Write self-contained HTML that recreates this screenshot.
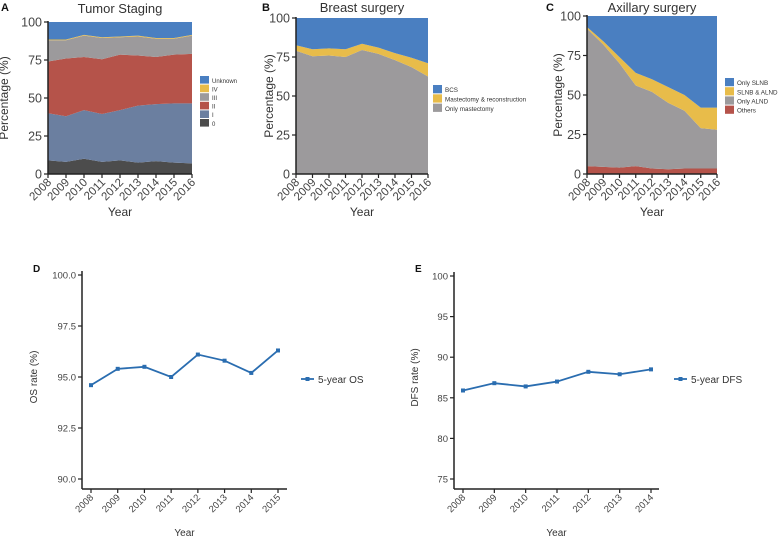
<!DOCTYPE html>
<html><head><meta charset="utf-8"><style>
body{margin:0;background:#fff}
svg{display:block;font-family:"Liberation Sans",sans-serif}
</style></head><body>
<svg id="c" width="780" height="538" xmlns="http://www.w3.org/2000/svg"></svg>
<script>
const years = [2008,2009,2010,2011,2012,2013,2014,2015,2016];
// Panel A stage percentages
const stage0 = [9,8,10,8,9,7.5,8.5,7.5,7];
const stageI = [31,30,32,31.5,33,37.5,37.5,39,39.5];
const stageII = [34,38,35,36,36.5,33,31,32,32.5];
const stageIII = [14,12,14,14,11.5,12.5,12,10.5,12];
const stageIV = [0.5,0.5,0.5,0.5,0.5,0.5,0.5,0.5,0.5];
const stageUnknown = [11.5,11.5,8.5,10,9.5,9,10.5,10.5,8.5];
// Panel B
const onlyMastectomy = [79,75.5,76,75,79.5,77,73,68.5,62.5];
const mastRecon = [3.5,4.5,4.5,5,4,4,4.5,6,8.5];
const bcs = [17.5,20,19.5,20,16.5,19,22.5,25.5,29];
// Panel C
const others = [5,4.5,4,5,3.5,3,3.5,3.5,3.5];
const onlyALND = [87,77.5,66,51,48.5,42,36.5,25.5,24.5];
const slnbALND = [1,2,4,8,8,10,10,13,14];
const onlySLNB = [7,16,26,36,40,45,50,58,58];
// Panel D/E
const osYears = [2008,2009,2010,2011,2012,2013,2014,2015];
const osValues = [94.6,95.4,95.5,95.0,96.1,95.8,95.2,96.3];
const osTicks = [90,92.5,95,97.5,100];
const dfsYears = [2008,2009,2010,2011,2012,2013,2014];
const dfsValues = [85.9,86.8,86.4,87.0,88.2,87.9,88.5];
const dfsTicks = [75,80,85,90,95,100];
const pctTicks = [0,25,50,75,100];

const NS="http://www.w3.org/2000/svg";
const svg=document.getElementById('c');
function mk(tag,attrs,parent){const e=document.createElementNS(NS,tag);for(const k in attrs)e.setAttribute(k,attrs[k]);(parent||svg).appendChild(e);return e;}
function txt(s,attrs,parent){const e=mk('text',attrs,parent);e.textContent=s;return e;}

function stackPanel(p){
  const g=mk('g',{});
  
  
  const xs=i=>p.x0+(p.x1-p.x0)*i/(years.length-1);
  const ys=v=>p.y0-(p.y0-p.y100)*v/100;
  let base=years.map(()=>0);
  p.series.forEach((s,si)=>{
    const top=base.map((b,i)=>b+s.vals[i]);
    let d='M'+years.map((_,i)=>xs(i)+','+ys(top[i])).join('L');
    for(let i=years.length-1;i>=0;i--)d+='L'+xs(i)+','+ys(base[i]);
    const a=mk('path',{d:d+'Z',fill:s.color},g);
    
    
    base=top;
  });
  mk('line',{x1:p.x0,y1:p.y100-1,x2:p.x0,y2:p.y0,stroke:'#222','stroke-width':1.5},g);
  mk('line',{x1:p.x0,y1:p.y0,x2:p.x1,y2:p.y0,stroke:'#222','stroke-width':1.5},g);
  pctTicks.forEach(t=>{
    mk('line',{x1:p.x0-4,y1:ys(t),x2:p.x0,y2:ys(t),stroke:'#222','stroke-width':1.2},g);
    const l=txt(String(t),{x:p.x0-6,y:ys(t)+4.5,'text-anchor':'end','font-size':12.5,fill:'#444'},g);
    
    
  });
  years.forEach((yr,i)=>{
    mk('line',{x1:xs(i),y1:p.y0,x2:xs(i),y2:p.y0+4,stroke:'#222','stroke-width':1.2},g);
    const l=txt(String(yr),{x:xs(i)+4,y:p.y0+9,'text-anchor':'end','font-size':11.5,fill:'#444',transform:`rotate(-45 ${xs(i)+4} ${p.y0+9})`},g);
    
    
  });
  const t=txt(p.title,{x:(p.x0+p.x1)/2,y:p.titleY,'text-anchor':'middle','font-size':13,fill:'#333'},g);
  
  
  const xt=txt('Year',{x:(p.x0+p.x1)/2,y:216,'text-anchor':'middle','font-size':12,fill:'#333'},g);
  
  
  const yt=txt('Percentage (%)',{x:0,y:0,'text-anchor':'middle','font-size':12,fill:'#333',transform:`translate(${p.yTitleX},${(p.y0+p.y100)/2}) rotate(-90)`},g);
  
  
  const pl=txt(p.letter,{x:p.letterX,y:11,'font-size':11,'font-weight':'bold',fill:'#111'},g);
  
  
  const rev=p.series.slice().reverse();
  rev.forEach((s,i)=>{
    const y=p.legY+i*p.legStep;
    const r=mk('rect',{x:p.legX,y:y,width:9,height:p.legStep-1,fill:s.color},g);
    
    
    const l=txt(s.label,{x:p.legX+12,y:y+p.legStep/2+2.5,'font-size':p.legFont,fill:'#333'},g);
    
    
  });
}
const BLUE='#4a7fc1',YEL='#e8bc4a',GRAY='#9c9a9c',RED='#b5534a',SLATE='#6b7fa0',DARK='#4c4c4c';
stackPanel({name:'tumor-staging-chart',letter:'A',letterX:1,title:'Tumor Staging',titleY:13,x0:48,x1:192,y0:174,y100:22,yTitleX:8,
  legX:200,legY:76,legStep:8.6,legFont:6,
  series:[{key:'0',label:'0',vals:stage0,color:DARK},{key:'i',label:'I',vals:stageI,color:SLATE},{key:'ii',label:'II',vals:stageII,color:RED},{key:'iii',label:'III',vals:stageIII,color:GRAY},{key:'iv',label:'IV',vals:stageIV,color:YEL},{key:'unknown',label:'Unknown',vals:stageUnknown,color:BLUE}]});
stackPanel({name:'breast-surgery-chart',letter:'B',letterX:262,title:'Breast surgery',titleY:12,x0:296,x1:428,y0:174,y100:18,yTitleX:273,
  legX:433,legY:85,legStep:9.3,legFont:6.3,
  series:[{key:'only-mastectomy',label:'Only mastectomy',vals:onlyMastectomy,color:GRAY},{key:'mastectomy-reconstruction',label:'Mastectomy & reconstruction',vals:mastRecon,color:YEL},{key:'bcs',label:'BCS',vals:bcs,color:BLUE}]});
stackPanel({name:'axillary-surgery-chart',letter:'C',letterX:546,title:'Axillary surgery',titleY:12,x0:587,x1:717,y0:174,y100:16,yTitleX:562,
  legX:725,legY:78,legStep:9.2,legFont:6.3,
  series:[{key:'others',label:'Others',vals:others,color:RED},{key:'only-alnd',label:'Only ALND',vals:onlyALND,color:GRAY},{key:'slnb-alnd',label:'SLNB & ALND',vals:slnbALND,color:YEL},{key:'only-slnb',label:'Only SLNB',vals:onlySLNB,color:BLUE}]});

function linePanel(p){
  const g=mk('g',{});
  
  
  const n=p.yrs.length;
  const xs=i=>p.px0+(p.px1-p.px0)*i/(n-1);
  const lo=p.ticks[0],hi=p.ticks[p.ticks.length-1];
  const ys=v=>p.yLo-(p.yLo-p.yHi)*(v-lo)/(hi-lo);
  mk('line',{x1:p.ax,y1:p.yHi-4,x2:p.ax,y2:p.axY,stroke:'#222','stroke-width':1.5},g);
  mk('line',{x1:p.ax,y1:p.axY,x2:p.axEnd,y2:p.axY,stroke:'#222','stroke-width':1.5},g);
  p.ticks.forEach(t=>{
    mk('line',{x1:p.ax-4,y1:ys(t),x2:p.ax,y2:ys(t),stroke:'#222','stroke-width':1.2},g);
    const l=txt(p.fmt(t),{x:p.ax-6,y:ys(t)+3.5,'text-anchor':'end','font-size':9.5,fill:'#444'},g);
    
    
  });
  p.yrs.forEach((yr,i)=>{
    mk('line',{x1:xs(i),y1:p.axY,x2:xs(i),y2:p.axY+4,stroke:'#222','stroke-width':1.2},g);
    const l=txt(String(yr),{x:xs(i)+3,y:p.axY+9,'text-anchor':'end','font-size':9.5,fill:'#444',transform:`rotate(-45 ${xs(i)+3} ${p.axY+9})`},g);
    
    
  });
  const ln=mk('polyline',{points:p.vals.map((v,i)=>xs(i)+','+ys(v)).join(' '),fill:'none',stroke:'#2a6db0','stroke-width':1.8},g);
  
  
  p.vals.forEach((v,i)=>{
    const m=mk('rect',{x:xs(i)-2,y:ys(v)-2,width:4,height:4,fill:'#2a6db0'},g);
    
    
  });
  const lm=mk('line',{x1:p.legX,y1:379,x2:p.legX+13,y2:379,stroke:'#2a6db0','stroke-width':1.8},g);
  
  
  mk('rect',{x:p.legX+4.5,y:377,width:4,height:4,fill:'#2a6db0'},g);
  const lt=txt(p.legend,{x:p.legX+17,y:383,'font-size':10,fill:'#333'},g);
  
  
  const xt=txt('Year',{x:(p.ax+p.axEnd)/2,y:536,'text-anchor':'middle','font-size':10,fill:'#333'},g);
  
  
  const yt=txt(p.ytitle,{x:0,y:0,'text-anchor':'middle','font-size':10,fill:'#333',transform:`translate(${p.ytx},${(p.yLo+p.yHi)/2}) rotate(-90)`},g);
  
  
  const pl=txt(p.letter,{x:p.letterX,y:272,'font-size':10,'font-weight':'bold',fill:'#111'},g);
  
  
}
linePanel({name:'os-rate-chart',letter:'D',letterX:33,yrs:osYears,vals:osValues,ticks:osTicks,fmt:t=>t.toFixed(1),
  ax:82,axY:489,axEnd:287,px0:91,px1:278,yHi:275,yLo:479,legX:301,legend:'5-year OS',ytitle:'OS rate (%)',ytx:37});
linePanel({name:'dfs-rate-chart',letter:'E',letterX:415,yrs:dfsYears,vals:dfsValues,ticks:dfsTicks,fmt:t=>String(t),
  ax:454,axY:489,axEnd:659,px0:463,px1:651,yHi:276,yLo:479,legX:674,legend:'5-year DFS',ytitle:'DFS rate (%)',ytx:418});
</script>
</body></html>
